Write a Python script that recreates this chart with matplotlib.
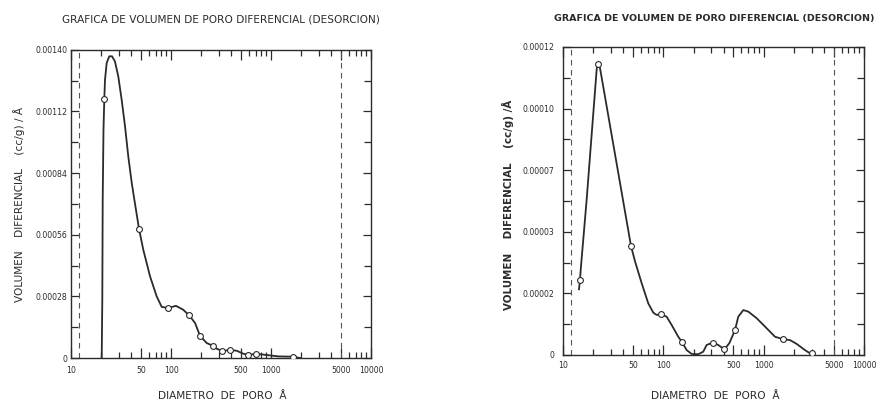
import matplotlib
matplotlib.use('Agg')
from matplotlib import pyplot as plt
from matplotlib.ticker import FixedLocator, NullFormatter

# ---- left chart data ----
left_pts_x = [21.5, 47.9, 94.0, 152.4, 195, 261, 324, 389, 593, 708, 1648]
left_pts_y = [0.001176, 0.000586, 0.000227, 0.000193, 0.000101, 0.0000559,
              0.0000318, 0.0000363, 0.0000136, 0.0000195, 0.000006]

left_curve_x = [20.28, 20.56, 20.75, 21.13, 21.53, 21.88, 22.75, 24.15, 25.7, 27.5,
                29.7, 32.1, 34.7, 37.4, 40.5, 43.0, 47.9, 52.8, 61.7, 71.9, 80.7,
                94.0, 112, 132.7, 152.4, 174, 195, 227.5, 261, 290, 324, 389, 454,
                528, 593, 708, 906, 1183, 1648, 1950]
left_curve_y = [0, 0.000265, 0.000719, 0.001037, 0.001176, 0.001264, 0.00134,
                0.00137, 0.00137, 0.001347, 0.001279, 0.001173, 0.001052, 0.000915,
                0.000795, 0.000719, 0.000586, 0.000492, 0.000371, 0.00028, 0.000232,
                0.000227, 0.000237, 0.000219, 0.000193, 0.000159, 0.000101, 0.000068,
                0.0000559, 0.000041, 0.0000318, 0.0000363, 0.000033, 0.0000195,
                0.0000136, 0.0000195, 0.0000136, 0.0000073, 0.000006, 0]

left_yticks = [0, 0.00028, 0.00056, 0.00084, 0.00112, 0.00140]
left_ylabels = ['0', '0.00028', '0.00056', '0.00084', '0.00112', '0.00140']

# ---- right chart data ----
right_pts_x = [14.76, 22.5, 47.6, 94.8, 152.4, 310, 405, 518, 1549, 3012]
right_pts_y = [0.0000292, 0.0001134, 0.0000425, 0.0000159, 0.0000052,
               0.0000048, 0.0000022, 0.0000097, 0.0000062, 0.0000006]

right_curve_x = [14.43, 14.76, 15.1, 17.2, 21.7, 22.5, 23.4, 47.6, 52.2,
                 60.9, 70.8, 79.4, 85.9, 94.8, 108, 121, 141, 152.4, 171, 192, 223,
                 250, 270, 310, 353, 405, 455, 518, 558, 627, 703, 853, 1072, 1298,
                 1549, 1832, 2135, 2584, 3012]
right_curve_y = [0.0000256, 0.0000292, 0.0000344, 0.0000604, 0.0001117, 0.0001134,
                 0.0001117, 0.0000425, 0.0000365, 0.0000279,
                 0.0000201, 0.0000165, 0.0000156, 0.0000159, 0.0000149, 0.0000117,
                 0.0000071, 0.0000052, 0.0000019, 0.0000004, 0.0000003, 0.0000013,
                 0.0000039, 0.0000048, 0.0000039, 0.0000022, 0.0000046, 0.0000097,
                 0.0000149, 0.0000175, 0.0000169, 0.0000143, 0.0000104, 0.0000071,
                 0.0000062, 0.0000058, 0.0000043, 0.0000019, 0.0000002]

right_yticks = [0, 0.000024, 0.000048, 0.000072, 0.000096, 0.00012]
right_ylabels = ['0', '0.00002', '0.00003', '0.00007', '0.00010', '0.00012']

# ---- shared x axis ----
x_major = [10, 50, 100, 500, 1000, 5000, 10000]
x_labels = ['10', '50', '100', '500', '1000', '5000', '10000']
x_minor = [20, 30, 40, 60, 70, 80, 90, 200, 300, 400, 600, 700, 800, 900,
           2000, 3000, 4000, 6000, 7000, 8000, 9000]
dashed_x = [12, 5000]

title = 'GRAFICA DE VOLUMEN DE PORO DIFERENCIAL (DESORCION)'
ink = '#2b2b2b'

fig = plt.figure(figsize=(8.78, 4.05), dpi=100)
ax1 = fig.add_axes([71/878, 47/405, 300/878, 308.3/405])
ax2 = fig.add_axes([563/878, 50/405, 301/878, 308/405])


def style(ax, yticks, ylabels, ymax, ypad, xpad):
    ax.set_xscale('log')
    ax.set_xlim(10, 10000)
    ax.set_ylim(0, ymax)
    ax.xaxis.set_major_locator(FixedLocator(x_major))
    ax.xaxis.set_minor_locator(FixedLocator(x_minor))
    ax.xaxis.set_minor_formatter(NullFormatter())
    ax.set_xticklabels(x_labels)
    ax.set_yticks(yticks)
    ax.set_yticklabels(ylabels)
    mids = [(yticks[i] + yticks[i + 1]) / 2 for i in range(len(yticks) - 1)]
    ax.yaxis.set_minor_locator(FixedLocator(mids))
    ax.tick_params(which='both', direction='in', top=True, right=True,
                   color=ink, width=0.9, labelcolor=ink, labelsize=5.6)
    ax.tick_params(axis='x', which='major', length=7, pad=xpad)
    ax.tick_params(axis='x', which='minor', length=4)
    ax.tick_params(axis='y', which='major', length=6, pad=ypad)
    ax.tick_params(axis='y', which='minor', length=5)
    for s in ax.spines.values():
        s.set_color(ink)
        s.set_linewidth(1.0)
    for xd in dashed_x:
        ax.axvline(xd, color='#555555', lw=0.8, ls=(0, (5, 4)))


style(ax1, left_yticks, left_ylabels, 0.0014, 2.5, 5.5)
style(ax2, right_yticks, right_ylabels, 0.00012, 6.5, 4.5)

ax1.plot(left_curve_x, left_curve_y, color=ink, lw=1.3, zorder=2)
ax1.plot(left_pts_x, left_pts_y, 'o', ms=4.2, mfc='white', mec=ink, mew=0.8, zorder=3)
ax2.plot(right_curve_x, right_curve_y, color=ink, lw=1.3, zorder=2)
ax2.plot(right_pts_x, right_pts_y, 'o', ms=4.2, mfc='white', mec=ink, mew=0.8, zorder=3)

fig.text(221/878, 1 - 19/405, title, ha='center', va='center', fontsize=7.6, color=ink)
fig.text(714/878, 1 - 19/405, title, ha='center', va='center', fontsize=6.8,
         color=ink, fontweight='bold')

fig.text(222/878, 1 - 396/405, 'DIAMETRO  DE  PORO  Å', ha='center', va='center',
         fontsize=7.6, color=ink)
fig.text(715/878, 1 - 396/405, 'DIAMETRO  DE  PORO  Å', ha='center', va='center',
         fontsize=7.6, color=ink)

fig.text(19/878, 1 - 205/405, 'VOLUMEN    DIFERENCIAL    (cc/g) / Å', rotation=90,
         ha='center', va='center', fontsize=7.6, color=ink)
fig.text(508/878, 1 - 205/405, 'VOLUMEN    DIFERENCIAL    (cc/g) /Å', rotation=90,
         ha='center', va='center', fontsize=7.4, color=ink, fontweight='bold')

fig.savefig('out.png', dpi=100)
